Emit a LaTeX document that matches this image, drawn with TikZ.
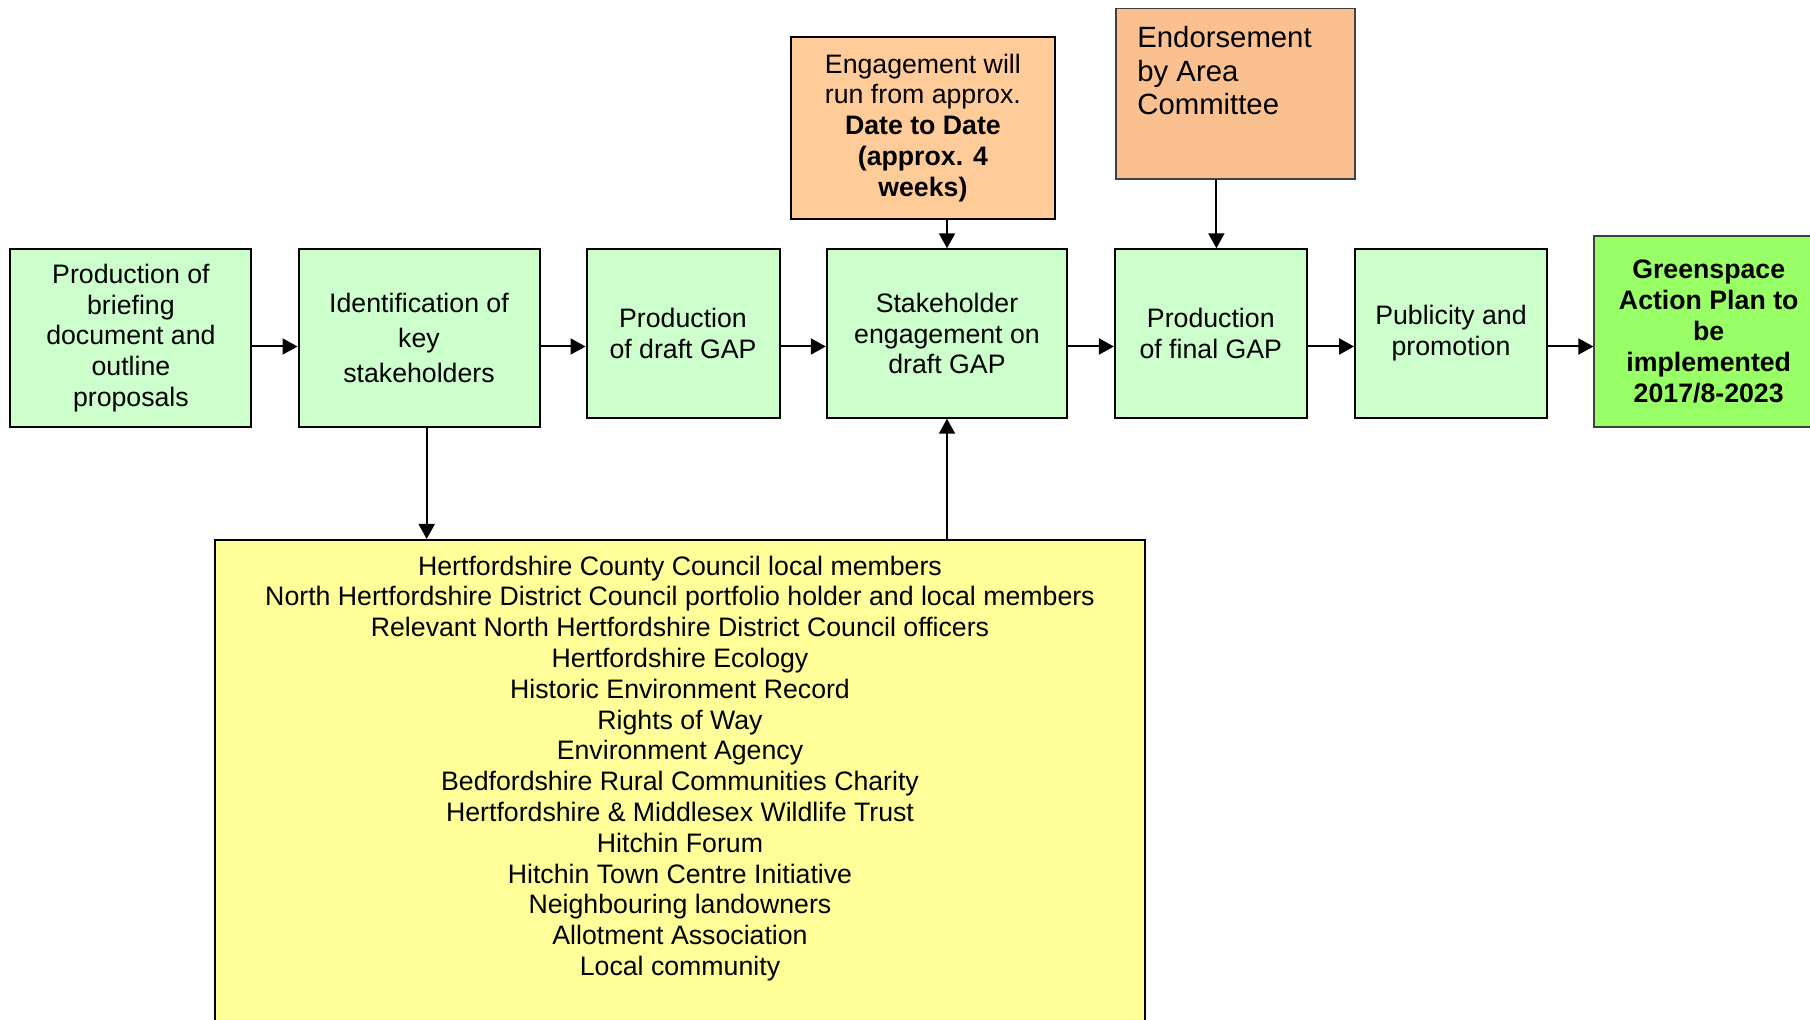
\documentclass[tikz,border=0pt]{standalone}
\usepackage{fontspec}
\setmainfont{Liberation Sans}
\usetikzlibrary{arrows.meta}
\definecolor{lgreen}{HTML}{CCFFCC}
\definecolor{bgreen}{HTML}{99FF66}
\definecolor{peach}{HTML}{FFCC99}
\definecolor{tanbox}{HTML}{FAC090}
\definecolor{lyellow}{HTML}{FFFF99}
\definecolor{dgrey}{HTML}{404040}
\newcommand\fsmain{\fontsize{13.35pt}{15.4pt}\selectfont}
\newcommand\fswide{\fontsize{13.35pt}{17.5pt}\selectfont}
\newcommand\fsbig{\fontsize{14.65pt}{16.75pt}\selectfont}
\begin{document}
\begin{tikzpicture}[x=0.5pt,y=-0.5pt,
  box/.style={draw=black, line width=1pt, inner sep=0pt, align=center, font=\fsmain},
  gbox/.style={box, fill=lgreen},
  conn/.style={line width=1pt, -{Triangle[length=7.5pt,width=8pt]}},
]
\useasboundingbox (0,0) rectangle (1810,1020);
\clip (0,0) rectangle (1810,1020);

% main row
\node[gbox, minimum width=120.5pt, minimum height=88.7pt] (b1) at (130.9,338)
  {Production of\\briefing\\document and\\outline\\proposals};
\node[gbox, minimum width=120.5pt, minimum height=88.7pt, font=\fswide] (b2) at (419,338)
  {Identification of\\key\\stakeholders};
\node[gbox, minimum width=96.5pt, minimum height=84.2pt] (b3) at (683,333.5)
  {Production\\of draft GAP};
\node[gbox, minimum width=120.2pt, minimum height=84.2pt] (b4) at (947,333.5)
  {Stakeholder\\engagement on\\draft GAP};
\node[gbox, minimum width=95.9pt, minimum height=84.2pt] (b5) at (1210.8,333.5)
  {Production\\of final GAP};
\node[gbox, minimum width=95.9pt, minimum height=84.2pt] (b6) at (1451,333.5)
  {Publicity and\\promotion};
\node[box, draw=dgrey, fill=bgreen, minimum width=114.3pt, minimum height=95.5pt] (b7) at (1708.7,331.5)
  {\bfseries Greenspace\\\bfseries Action Plan to\\\bfseries be\\\bfseries implemented\\\bfseries 2017/8-2023};

% top boxes
\node[box, fill=peach, minimum width=132.4pt, minimum height=91.2pt] (eng) at (922.9,127.9)
  {Engagement will\\run from approx.\\\textbf{Date to Date}\\\textbf{(approx. 4}\\\textbf{weeks)}};
\node[box, draw=dgrey, line width=0.8pt, fill=tanbox, minimum width=119.5pt, minimum height=85.3pt] (endo) at (1235.5,93.7) {};
\node[font=\fsbig, align=left, anchor=north west, inner sep=0pt] (endtext) at (1137,26)
  {Endorsement\\by Area\\Committee};

% stakeholder list
\node[box, fill=lyellow, anchor=north, minimum width=465.2pt, minimum height=300pt] (yel) at (680,539) {};
\node[font=\fsmain, align=center, inner sep=0pt] (yeltext) at (680,768.3)
  {Hertfordshire County Council local members\\
   North Hertfordshire District Council portfolio holder and local members\\
   Relevant North Hertfordshire District Council officers\\
   Hertfordshire Ecology\\
   Historic Environment Record\\
   Rights of Way\\
   Environment Agency\\
   Bedfordshire Rural Communities Charity\\
   Hertfordshire \& Middlesex Wildlife Trust\\
   Hitchin Forum\\
   Hitchin Town Centre Initiative\\
   Neighbouring landowners\\
   Allotment Association\\
   Local community};

% helper coordinates
\coordinate (ay) at (0,346.5);
\coordinate (ex) at (1216.4,0);
\coordinate (dx) at (426.7,0);

% connectors
\draw[conn] (b1.east |- ay) -- (b2.west |- ay);
\draw[conn] (b2.east |- ay) -- (b3.west |- ay);
\draw[conn] (b3.east |- ay) -- (b4.west |- ay);
\draw[conn] (b4.east |- ay) -- (b5.west |- ay);
\draw[conn] (b5.east |- ay) -- (b6.west |- ay);
\draw[conn] (b6.east |- ay) -- (b7.west |- ay);
\draw[conn] (eng.south -| b4) -- (b4.north);
\draw[conn] (endo.south -| ex) -- (b5.north -| ex);
\draw[conn] (b2.south -| dx) -- (yel.north -| dx);
\draw[conn] (yel.north -| b4) -- (b4.south);
\end{tikzpicture}
\end{document}
